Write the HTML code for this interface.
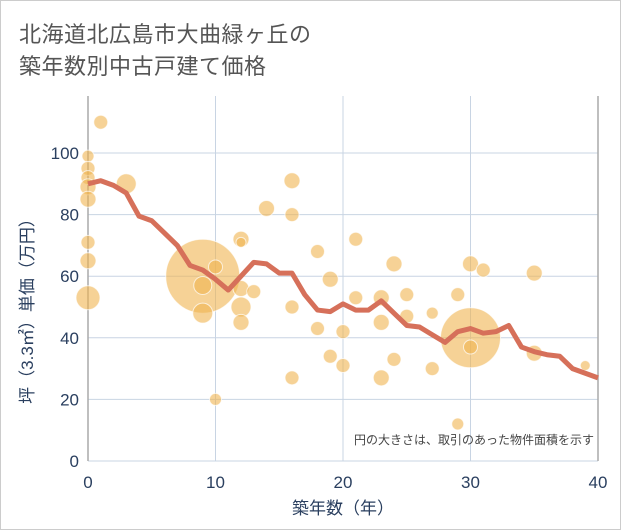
<!DOCTYPE html>
<html><head><meta charset="utf-8"><style>
body{margin:0;background:#fff;font-family:"Liberation Sans","Noto Sans CJK JP",sans-serif;}
#wrap{position:relative;width:619px;height:528px;border:1px solid #ccc;background:#fff;overflow:hidden}
.title{position:absolute;left:18px;top:18px;font-size:22px;line-height:32px;color:#555;letter-spacing:0.5px}
</style></head><body>
<div id="wrap">
<div class="title">北海道北広島市大曲緑ヶ丘の<br>築年数別中古戸建て価格</div>
<svg id="chart" width="621" height="530" style="position:absolute;left:0;top:0"></svg>
</div>
<script>
const bubbleX=[0,0,0,0,0,0,0,0,1,3,9,9,9,10,10,12,12,12,12,12,13,14,16,16,16,16,18,18,19,19,20,20,21,21,23,23,23,24,24,25,25,27,27,29,29,30,30,30,31,35,35,39];
const bubbleY=[99,95,92,89,85,71,65,53,110,90,60,57,48,63,20,72,71,56,50,45,55,82,91,80,50,27,68,43,59,34,42,31,72,53,53,45,27,64,33,54,47,48,30,54,12,40,37,64,62,61,35,31];
const bubbleR=[6,7,7,8,8,7,8,12,7,10,37,9,10,7,6,8,5,8,10,8,7,8,8,7,7,7,7,7,8,7,7,7,7,7,8,8,8,8,7,7,7,6,7,7,6,30,7,8,7,8,8,5];
const lineX=[0,1,2,3,4,5,6,7,8,9,10,11,12,13,14,15,16,17,18,19,20,21,22,23,24,25,26,27,28,29,30,31,32,33,34,35,36,37,38,39,40];
const lineY=[90,91,89.5,87,79.5,78,74,70,63.5,62,59,55.5,60,64.5,64,61,61,54,49,48.5,51,49,49,52,48,44,43.5,41,38.5,42,43,41.5,42,44,37,35.5,34.5,34,30,28.5,27];
const xTicks=[0,10,20,30,40];
const yTicks=[0,20,40,60,80,100];
const X0=87,X1=597,Y0=460,Y1=152;
const sx=v=>X0+(v/40)*(X1-X0);
const sy=v=>Y0-(v/100)*(Y0-Y1);
const svg=document.getElementById('chart');
const NS='http://www.w3.org/2000/svg';
function mk(t,a){const e=document.createElementNS(NS,t);for(const k in a)e.setAttribute(k,a[k]);svg.appendChild(e);return e;}
for(const t of xTicks){
 const l=mk('line',{x1:sx(t),x2:sx(t),y1:95,y2:Y0,stroke:'#c8d4e3','stroke-width':1});
 
 
 const tx=mk('text',{x:sx(t),y:487,'text-anchor':'middle','font-size':17,fill:'#2a3f5f'});tx.textContent=t;
 
 
}
for(const t of yTicks){
 const l=mk('line',{x1:X0,x2:X1,y1:sy(t),y2:sy(t),stroke:'#c8d4e3','stroke-width':1});
 
 
 const tx=mk('text',{x:78,y:sy(t)+6,'text-anchor':'end','font-size':17,fill:'#2a3f5f'});tx.textContent=t;
 
 
}
const ax=mk('line',{x1:X0,x2:X0,y1:95,y2:Y0,stroke:'#aaa','stroke-width':1.5});


const ax2=mk('line',{x1:X1,x2:X1,y1:95,y2:Y0,stroke:'#aaa','stroke-width':1.5});


for(let i=0;i<bubbleX.length;i++){
 const c=mk('circle',{cx:sx(bubbleX[i]),cy:sy(bubbleY[i]),r:bubbleR[i],fill:'rgba(240,180,80,0.6)',stroke:'rgba(255,255,255,0.7)','stroke-width':1});
 
 
}
const pts=lineX.map((x,i)=>sx(x)+','+sy(lineY[i])).join(' ');
const pl=mk('polyline',{points:pts,fill:'none',stroke:'#d6705a','stroke-width':5,'stroke-linejoin':'round'});


const note=mk('text',{x:593,y:443,'text-anchor':'end','font-size':12,fill:'#444'});note.textContent='円の大きさは、取引のあった物件面積を示す';


const xt=mk('text',{x:342,y:513,'text-anchor':'middle','font-size':17,fill:'#2a3f5f'});xt.textContent='築年数（年）';


const yt=mk('text',{x:0,y:0,'text-anchor':'middle','font-size':17,fill:'#2a3f5f',transform:'translate(32,306) rotate(-90)'});yt.textContent='坪（3.3㎡）単価（万円）';


</script>
</body></html>
